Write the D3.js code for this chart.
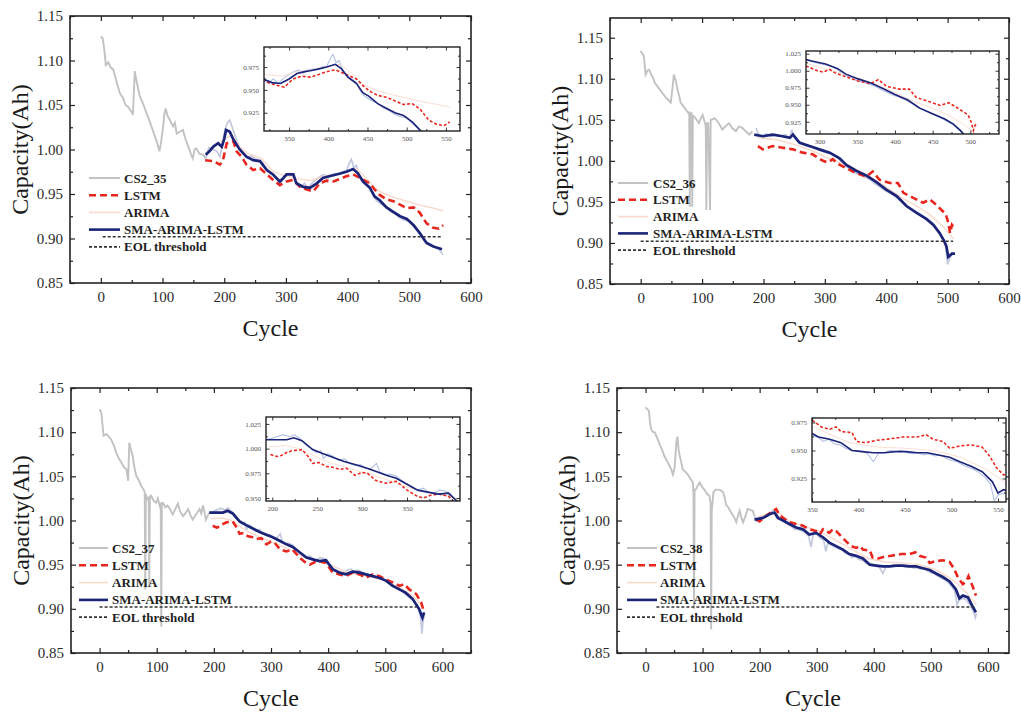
<!DOCTYPE html>
<html><head><meta charset="utf-8">
<script src="https://cdn.jsdelivr.net/npm/d3@7"></script>
<style>
body{margin:0;background:#fff;}
svg{display:block;}
text{font-family:"Liberation Serif","Times New Roman",serif;}
</style>
</head><body>
<svg id="chart" width="1021" height="713"></svg>
<script>
// ---------------- DATA ----------------
const seriesNames = ["CS2_35", "CS2_36", "CS2_37", "CS2_38"];
const legendLabels = ["LSTM", "ARIMA", "SMA-ARIMA-LSTM", "EOL threshold"];
const yTitle = "Capacity(Ah)";
const xTitle = "Cycle";
const mainXTicks = [0, 100, 200, 300, 400, 500, 600];
const mainYTicks = [0.85, 0.90, 0.95, 1.00, 1.05, 1.10, 1.15];
const eolValue = 0.902;

const insetX35 = [350, 400, 450, 500, 550];
const insetY35 = [0.925, 0.950, 0.975];
const insetX36 = [300, 350, 400, 450, 500];
const insetY36 = [0.925, 0.950, 0.975, 1.000, 1.025];
const insetX37 = [200, 250, 300, 350];
const insetY37 = [0.950, 0.975, 1.000, 1.025];
const insetX38 = [350, 400, 450, 500, 550];
const insetY38 = [0.925, 0.950, 0.975];

const raw35 = [[0,1.127],[3,1.125],[6,1.11],[8,1.095],[12,1.098],[16,1.092],[20,1.09],[24,1.08],[28,1.07],[31,1.063],[36,1.058],[40,1.05],[44,1.048],[47,1.045],[50,1.042],[52,1.039],[55,1.088],[57,1.08],[60,1.07],[63,1.06],[68,1.052],[74,1.041],[80,1.03],[85,1.02],[90,1.01],[95,0.998],[98,1.01],[101,1.026],[103,1.04],[105,1.046],[108,1.038],[112,1.033],[117,1.026],[120,1.03],[123,1.018],[128,1.02],[133,1.022],[137,1.012],[142,1.003],[146,0.995],[149,0.99],[152,1.0],[155,1.001],[160,0.995],[166,0.994],[170,0.99],[175,1.002],[182,1.0],[188,0.998],[193,0.992],[197,1.005],[201,1.022],[205,1.03],[209,1.033],[213,1.025],[220,1.011],[226,1.0],[232,0.995],[238,0.99],[244,0.993],[250,0.99],[256,0.988],[262,0.985],[268,0.978],[274,0.975],[280,0.97],[286,0.966],[292,0.962],[298,0.97],[305,0.973],[312,0.97],[318,0.96],[324,0.958],[330,0.962],[336,0.957],[342,0.962],[348,0.966],[356,0.97],[362,0.972],[368,0.968],[374,0.972],[380,0.973],[386,0.972],[392,0.975],[398,0.976],[403,0.985],[406,0.989],[410,0.98],[414,0.982],[418,0.972],[424,0.965],[430,0.962],[436,0.958],[440,0.95],[444,0.945],[448,0.942],[452,0.94],[458,0.937],[464,0.935],[470,0.93],[476,0.928],[482,0.925],[488,0.922],[494,0.92],[500,0.92],[506,0.914],[512,0.91],[518,0.905],[524,0.898],[530,0.895],[536,0.892],[542,0.89],[548,0.888],[552,0.884],[555,0.882]];
const lstm35 = [[169,0.988],[182,0.987],[193,0.983],[198,0.988],[204,1.007],[215,1.009],[220,0.998],[228,0.992],[236,0.983],[247,0.977],[258,0.979],[269,0.972],[279,0.966],[290,0.96],[301,0.964],[312,0.966],[323,0.958],[334,0.955],[344,0.953],[355,0.962],[366,0.965],[377,0.964],[388,0.967],[398,0.970],[409,0.972],[420,0.968],[436,0.962],[444,0.955],[452,0.949],[463,0.944],[474,0.942],[485,0.938],[496,0.934],[507,0.935],[517,0.929],[528,0.917],[539,0.912],[548,0.911],[555,0.915]];
const arima35 = [[170,0.996],[185,1.004],[200,1.012],[212,1.016],[225,1.003],[240,0.995],[260,0.99],[280,0.975],[300,0.97],[320,0.967],[340,0.965],[360,0.97],[380,0.972],[400,0.976],[415,0.978],[430,0.968],[445,0.956],[460,0.95],[480,0.945],[500,0.941],[520,0.937],[540,0.934],[555,0.931]];
const hyb35 = [[170,0.994],[176,0.998],[182,1.003],[190,1.007],[196,1.003],[200,1.012],[203,1.022],[209,1.02],[215,1.011],[225,1.0],[236,0.992],[247,0.988],[258,0.987],[269,0.977],[279,0.972],[290,0.964],[296,0.968],[301,0.972],[312,0.972],[317,0.962],[328,0.958],[339,0.957],[350,0.962],[360,0.968],[370,0.970],[377,0.971],[388,0.973],[398,0.975],[409,0.978],[417,0.973],[425,0.964],[436,0.957],[444,0.947],[452,0.943],[463,0.935],[474,0.930],[485,0.925],[496,0.922],[507,0.915],[517,0.906],[528,0.895],[539,0.891],[553,0.888]];

const raw36 = [[0,1.134],[3,1.13],[5,1.128],[8,1.105],[11,1.11],[14,1.111],[17,1.105],[19,1.103],[23,1.095],[27,1.091],[31,1.087],[35,1.083],[40,1.078],[44,1.075],[49,1.071],[52,1.09],[54,1.105],[57,1.098],[60,1.087],[63,1.078],[65,1.071],[70,1.066],[74,1.062],[78,1.058],[79,1.06],[80,0.944],[81,1.058],[83,1.058],[84,0.944],[85,1.055],[87,1.054],[91,1.05],[95,1.046],[98,1.052],[101,1.056],[104,1.048],[106,1.042],[107,0.94],[108,1.046],[110,1.046],[113,0.94],[114,1.05],[116,1.05],[120,1.052],[123,1.05],[128,1.045],[133,1.038],[138,1.042],[144,1.046],[149,1.04],[155,1.036],[160,1.042],[166,1.04],[171,1.036],[177,1.032],[182,1.036],[188,1.04],[192,1.032],[198,1.03],[205,1.033],[212,1.03],[220,1.032],[228,1.03],[236,1.032],[243,1.028],[246,1.038],[249,1.03],[255,1.024],[262,1.022],[270,1.018],[278,1.017],[286,1.015],[294,1.012],[302,1.01],[310,1.008],[318,1.006],[326,1.0],[334,0.993],[342,0.99],[350,0.985],[358,0.983],[366,0.98],[374,0.977],[382,0.972],[390,0.968],[398,0.964],[406,0.961],[414,0.957],[422,0.952],[430,0.946],[438,0.942],[446,0.938],[454,0.934],[462,0.93],[470,0.925],[478,0.92],[486,0.912],[492,0.905],[497,0.895],[500,0.874],[503,0.88],[506,0.885],[510,0.888]];
const lstm36 = [[191,1.018],[199,1.014],[215,1.018],[231,1.016],[248,1.014],[264,1.01],[280,1.008],[297,1.0],[305,0.998],[313,1.002],[322,0.996],[330,0.993],[351,0.985],[368,0.981],[378,0.987],[389,0.977],[406,0.973],[419,0.973],[428,0.961],[444,0.955],[460,0.949],[471,0.953],[482,0.946],[493,0.938],[497,0.935],[501,0.925],[504,0.912],[507,0.922],[509,0.92]];
const arima36 = [[190,1.028],[220,1.026],[250,1.02],[280,1.012],[300,1.005],[330,0.996],[350,0.99],[375,0.98],[400,0.968],[425,0.955],[450,0.945],[470,0.935],[490,0.922],[510,0.905]];
const hyb36 = [[185,1.032],[199,1.03],[215,1.032],[231,1.03],[243,1.028],[248,1.032],[259,1.022],[275,1.018],[291,1.014],[308,1.01],[324,1.003],[335,0.995],[351,0.988],[368,0.982],[384,0.974],[400,0.965],[417,0.957],[433,0.945],[449,0.937],[466,0.929],[477,0.922],[487,0.912],[494,0.903],[498,0.896],[501,0.883],[507,0.887],[512,0.887]];

const raw37 = [[0,1.126],[3,1.122],[7,1.096],[12,1.098],[16,1.095],[20,1.092],[25,1.085],[29,1.077],[34,1.07],[38,1.066],[43,1.06],[47,1.058],[50,1.045],[52,1.088],[55,1.08],[58,1.073],[61,1.06],[64,1.051],[69,1.045],[73,1.039],[77,1.035],[79,1.032],[80,0.922],[81,1.03],[83,1.024],[86,1.026],[87,0.926],[88,1.025],[90,1.028],[95,1.022],[99,1.02],[102,1.025],[105,1.017],[107,1.02],[108,0.88],[109,1.02],[111,1.02],[115,1.015],[119,1.017],[124,1.012],[128,1.007],[132,1.012],[137,1.019],[141,1.01],[146,1.005],[150,1.008],[155,1.013],[159,1.006],[163,1.001],[168,1.006],[172,1.01],[175,1.013],[178,1.008],[181,1.017],[184,1.008],[186,1.001],[189,1.005],[192,1.009],[198,1.01],[205,1.012],[212,1.014],[219,1.012],[225,1.014],[231,1.01],[237,1.004],[243,1.0],[249,0.996],[254,0.998],[257,0.99],[262,0.995],[268,0.992],[274,0.988],[280,0.99],[286,0.985],[292,0.983],[298,0.984],[304,0.98],[310,0.98],[316,0.985],[320,0.976],[326,0.974],[332,0.974],[338,0.972],[344,0.968],[350,0.964],[356,0.96],[362,0.958],[368,0.96],[374,0.956],[380,0.955],[386,0.958],[392,0.957],[398,0.955],[404,0.948],[410,0.944],[416,0.942],[422,0.94],[428,0.941],[434,0.944],[440,0.945],[446,0.942],[452,0.944],[458,0.942],[464,0.94],[470,0.938],[476,0.938],[482,0.937],[488,0.936],[494,0.934],[500,0.932],[506,0.93],[512,0.926],[518,0.924],[524,0.921],[530,0.92],[536,0.916],[542,0.913],[548,0.91],[554,0.905],[558,0.9],[562,0.89],[564,0.872],[566,0.885],[568,0.893]];
const lstm37 = [[198,0.994],[205,0.992],[210,0.993],[216,0.996],[222,0.998],[233,0.999],[240,0.992],[245,0.985],[252,0.986],[260,0.982],[268,0.981],[275,0.979],[283,0.98],[292,0.973],[300,0.976],[306,0.975],[315,0.968],[322,0.966],[327,0.965],[338,0.967],[350,0.958],[361,0.952],[368,0.95],[377,0.953],[385,0.954],[396,0.952],[408,0.941],[420,0.939],[431,0.937],[443,0.941],[455,0.939],[466,0.935],[478,0.939],[490,0.937],[501,0.933],[513,0.93],[525,0.926],[533,0.928],[542,0.922],[554,0.917],[563,0.907],[568,0.896]];
const arima37 = [[195,1.002],[215,1.003],[230,1.0],[260,0.987],[300,0.976],[330,0.968],[360,0.958],[400,0.951],[430,0.942],[460,0.938],[500,0.932],[530,0.922],[550,0.914],[568,0.9]];
const hyb37 = [[192,1.009],[204,1.009],[216,1.009],[224,1.011],[233,1.008],[245,0.999],[256,0.995],[268,0.991],[280,0.987],[292,0.984],[303,0.981],[315,0.977],[327,0.973],[338,0.970],[350,0.964],[362,0.958],[373,0.956],[385,0.954],[396,0.955],[408,0.945],[420,0.941],[431,0.939],[443,0.942],[455,0.941],[466,0.939],[478,0.937],[490,0.935],[501,0.932],[513,0.926],[525,0.922],[536,0.918],[548,0.911],[559,0.9],[565,0.89],[568,0.896]];

const raw38 = [[0,1.128],[3,1.126],[6,1.124],[8,1.11],[10,1.103],[13,1.1],[16,1.1],[20,1.094],[25,1.086],[29,1.08],[33,1.073],[37,1.068],[42,1.062],[45,1.058],[48,1.052],[51,1.06],[54,1.088],[56,1.095],[58,1.08],[60,1.073],[63,1.065],[65,1.058],[70,1.055],[74,1.052],[79,1.047],[83,1.043],[84,1.03],[85,0.9],[86,1.035],[88,1.035],[92,1.04],[95,1.043],[99,1.038],[103,1.035],[108,1.03],[112,1.028],[114,1.02],[115,0.877],[116,1.01],[119,1.032],[123,1.035],[127,1.035],[132,1.034],[136,1.032],[139,1.025],[141,1.018],[145,1.015],[150,1.009],[155,1.004],[159,0.998],[162,1.005],[165,1.011],[168,1.003],[171,0.998],[175,1.005],[179,1.013],[184,1.012],[188,1.011],[191,1.005],[194,1.0],[200,1.004],[206,1.003],[212,1.006],[218,1.008],[224,1.012],[228,1.01],[232,1.005],[238,1.002],[244,0.998],[250,0.996],[256,0.993],[262,0.99],[268,0.99],[274,0.988],[280,0.986],[286,0.982],[290,0.97],[294,0.985],[300,0.985],[306,0.98],[312,0.978],[316,0.965],[320,0.975],[326,0.972],[332,0.97],[338,0.968],[344,0.967],[350,0.963],[356,0.962],[362,0.958],[368,0.96],[374,0.956],[380,0.955],[386,0.952],[392,0.95],[398,0.95],[404,0.949],[410,0.947],[416,0.94],[422,0.948],[428,0.948],[434,0.95],[440,0.949],[446,0.95],[452,0.948],[458,0.947],[464,0.948],[470,0.946],[476,0.947],[482,0.945],[488,0.946],[494,0.943],[500,0.941],[506,0.94],[512,0.937],[518,0.935],[524,0.933],[530,0.93],[536,0.926],[542,0.92],[546,0.905],[550,0.91],[556,0.912],[562,0.91],[568,0.905],[574,0.898],[578,0.89],[580,0.895]];
const lstm38 = [[194,1.001],[200,0.999],[211,1.005],[222,1.01],[229,1.013],[235,1.006],[241,1.003],[252,0.998],[264,0.996],[276,0.994],[287,0.99],[299,0.988],[305,0.984],[311,0.99],[322,0.986],[328,0.99],[334,0.988],[346,0.98],[352,0.976],[360,0.971],[369,0.969],[376,0.971],[381,0.967],[393,0.966],[398,0.958],[408,0.957],[419,0.959],[430,0.96],[448,0.962],[463,0.962],[473,0.964],[480,0.96],[491,0.958],[498,0.952],[509,0.954],[521,0.955],[533,0.953],[541,0.945],[548,0.935],[556,0.928],[562,0.931],[566,0.937],[573,0.926],[579,0.915]];
const arima38 = [[195,1.003],[215,1.008],[230,1.01],[250,1.0],[270,0.995],[300,0.989],[330,0.979],[360,0.968],[390,0.957],[420,0.953],[450,0.952],[480,0.95],[510,0.944],[540,0.932],[560,0.92],[580,0.905]];
const hyb38 = [[191,1.001],[206,1.003],[217,1.007],[226,1.009],[232,1.003],[241,1.0],[252,0.996],[264,0.992],[276,0.99],[287,0.984],[299,0.986],[311,0.981],[322,0.975],[334,0.971],[346,0.967],[357,0.962],[369,0.960],[381,0.957],[393,0.950],[404,0.949],[416,0.948],[428,0.948],[439,0.949],[451,0.949],[463,0.948],[474,0.948],[486,0.946],[498,0.944],[509,0.940],[521,0.936],[533,0.931],[544,0.922],[550,0.912],[556,0.915],[565,0.913],[573,0.903],[579,0.896]];

// ---------------- LAYOUT ----------------
const panels = [
  {name: seriesNames[0], raw: raw35, lstm: lstm35, arima: arima35, hyb: hyb35, predStart: 170,
   frame: {x: 70, y: 16, w: 401, h: 267}, xDomain: [-50, 600], yDomain: [0.85, 1.15], eol: [3, 554],
   legend: {x0: 89, x1: 120, tx: 124, y0: 178, dy: 17.2},
   inset: {x: 264, y: 47, w: 196, h: 84, xDomain: [318, 568], yDomain: [0.905, 0.997], xTicks: insetX35, yTicks: insetY35}},
  {name: seriesNames[1], raw: raw36, lstm: lstm36, arima: arima36, hyb: hyb36, predStart: 185,
   frame: {x: 610, y: 18, w: 399, h: 266}, xDomain: [-50, 600], yDomain: [0.85, 1.174], eol: [0, 509],
   legend: {x0: 618, x1: 648, tx: 653, y0: 183, dy: 16.8},
   inset: {x: 806, y: 51, w: 193, h: 83, xDomain: [282, 538], yDomain: [0.907, 1.029], xTicks: insetX36, yTicks: insetY36}},
  {name: seriesNames[2], raw: raw37, lstm: lstm37, arima: arima37, hyb: hyb37, predStart: 192,
   frame: {x: 71, y: 388, w: 400, h: 265}, xDomain: [-50, 650], yDomain: [0.85, 1.15], eol: [0, 555],
   legend: {x0: 79, x1: 108, tx: 112, y0: 548, dy: 17.3},
   inset: {x: 266, y: 417, w: 194, h: 84, xDomain: [193, 409], yDomain: [0.947, 1.032], xTicks: insetX37, yTicks: insetY37}},
  {name: seriesNames[3], raw: raw38, lstm: lstm38, arima: arima38, hyb: hyb38, predStart: 191,
   frame: {x: 617, y: 388, w: 392, h: 265}, xDomain: [-50, 637], yDomain: [0.85, 1.15], eol: [19, 576],
   legend: {x0: 627, x1: 657, tx: 660, y0: 548, dy: 17.3},
   inset: {x: 812, y: 418, w: 194, h: 84, xDomain: [350, 558.6], yDomain: [0.904, 0.979], xTicks: insetX38, yTicks: insetY38}}
];

const C = {
  raw: "#c2c2c2", rawTest: "#aebde3", lstm: "#e8261e", arima: "#f8d9cc", hyb: "#1b2478", eol: "#333", frame: "#222", text: "#222"
};

const svg = d3.select("#chart");

function axesBox(g, x, y, w, h, o) {
  const style = sel => {
    sel.select(".domain").remove();
    sel.selectAll(".tick line").attr("stroke", C.frame).attr("stroke-width", o.tickW);
    sel.selectAll(".tick text").attr("fill", o.textFill).style("font-size", o.font + "px")
      .style("font-family", '"Liberation Serif","Times New Roman",serif');
  };
  g.append("g").attr("transform", `translate(0,${h})`)
    .call(d3.axisBottom(x).tickValues(o.xMajor).tickSize(-o.major).tickPadding(o.xPad).tickFormat(o.xFmt)).call(style);
  g.append("g").attr("transform", `translate(0,${h})`)
    .call(d3.axisBottom(x).tickValues(o.xMinor).tickSize(-o.minor).tickFormat("")).call(style);
  g.append("g").call(d3.axisTop(x).tickValues(o.xMajor).tickSize(-o.major).tickFormat("")).call(style);
  g.append("g").call(d3.axisTop(x).tickValues(o.xMinor).tickSize(-o.minor).tickFormat("")).call(style);
  g.append("g").call(d3.axisLeft(y).tickValues(o.yMajor).tickSize(-o.major).tickPadding(o.yPad).tickFormat(o.yFmt)).call(style);
  g.append("g").call(d3.axisLeft(y).tickValues(o.yMinor).tickSize(-o.minor).tickFormat("")).call(style);
  g.append("g").attr("transform", `translate(${w},0)`)
    .call(d3.axisRight(y).tickValues(o.yMajor).tickSize(-o.major).tickFormat("")).call(style);
  g.append("g").attr("transform", `translate(${w},0)`)
    .call(d3.axisRight(y).tickValues(o.yMinor).tickSize(-o.minor).tickFormat("")).call(style);
  g.append("rect").attr("width", w).attr("height", h).attr("fill", "none")
    .attr("stroke", C.frame).attr("stroke-width", o.frameW);
}

function drawSeries(g, p, x, y, scale) {
  const line = d3.line().x(d => x(d[0])).y(d => y(d[1]));
  g.append("path").datum(p.raw.filter(d => d[0] <= p.predStart + 2)).attr("d", line)
    .attr("fill", "none").attr("stroke", C.raw).attr("stroke-width", 1.9 * scale);
  g.append("path").datum(p.raw.filter(d => d[0] >= p.predStart - 2)).attr("d", line)
    .attr("fill", "none").attr("stroke", scale < 1 ? C.rawTest : "#c3c9de").attr("stroke-width", 1.7 * scale);
  g.append("path").datum(p.arima).attr("d", line)
    .attr("fill", "none").attr("stroke", C.arima).attr("stroke-width", 1.4 * scale);
  g.append("path").datum(p.lstm).attr("d", line)
    .attr("fill", "none").attr("stroke", C.lstm).attr("stroke-width", 2.6 * scale)
    .attr("stroke-dasharray", scale < 1 ? "3,2" : "7,4");
  g.append("path").datum(p.hyb).attr("d", line)
    .attr("fill", "none").attr("stroke", C.hyb).attr("stroke-width", 2.7 * scale);
}

panels.forEach((p, i) => {
  const f = p.frame;
  const g = svg.append("g").attr("transform", `translate(${f.x},${f.y})`);
  const x = d3.scaleLinear().domain(p.xDomain).range([0, f.w]);
  const y = d3.scaleLinear().domain(p.yDomain).range([f.h, 0]);

  svg.append("clipPath").attr("id", "clip" + i).append("rect").attr("width", f.w).attr("height", f.h);
  const plot = g.append("g").attr("clip-path", `url(#clip${i})`);
  drawSeries(plot, p, x, y, 1);
  plot.append("line").attr("x1", x(p.eol[0])).attr("x2", x(p.eol[1]))
    .attr("y1", y(eolValue)).attr("y2", y(eolValue))
    .attr("stroke", C.eol).attr("stroke-width", 1.6).attr("stroke-dasharray", "3,2");

  axesBox(g, x, y, f.w, f.h, {
    xMajor: mainXTicks.filter(v => v >= p.xDomain[0] && v <= p.xDomain[1]),
    xMinor: d3.range(-50, p.xDomain[1] + 1, 100),
    yMajor: mainYTicks,
    yMinor: d3.range(0.875, 1.15, 0.05),
    major: 5, minor: 3, tickW: 1.2, frameW: 1.6, font: 15, xPad: 8, yPad: 7, textFill: "#2b2b2b",
    xFmt: d3.format("d"), yFmt: d3.format(".2f")
  });

  g.append("text").attr("transform", `translate(-50,${f.h / 2}) rotate(-90)`)
    .attr("text-anchor", "middle").attr("dominant-baseline", "central")
    .attr("fill", "#1a1a1a").style("font-size", "24px").text(yTitle);
  g.append("text").attr("x", f.w / 2).attr("y", f.h + 45)
    .attr("text-anchor", "middle").attr("dominant-baseline", "central")
    .attr("fill", "#1a1a1a").style("font-size", "24px").text(xTitle);

  const L = p.legend;
  const items = [
    {label: p.name, stroke: C.raw, w: 2, dash: null},
    {label: legendLabels[0], stroke: C.lstm, w: 2.6, dash: "7,4"},
    {label: legendLabels[1], stroke: C.arima, w: 1.6, dash: null},
    {label: legendLabels[2], stroke: C.hyb, w: 2.6, dash: null},
    {label: legendLabels[3], stroke: C.eol, w: 1.8, dash: "3,2"}
  ];
  items.forEach((it, k) => {
    const yy = L.y0 + k * L.dy;
    svg.append("line").attr("x1", L.x0).attr("x2", L.x1).attr("y1", yy).attr("y2", yy)
      .attr("stroke", it.stroke).attr("stroke-width", it.w).attr("stroke-dasharray", it.dash);
    svg.append("text").attr("x", L.tx).attr("y", yy).attr("dominant-baseline", "central")
      .attr("fill", "#1f1f1f").style("font-size", "13px").style("font-weight", "bold").text(it.label);
  });

  const I = p.inset;
  const ig = svg.append("g").attr("transform", `translate(${I.x},${I.y})`);
  ig.append("rect").attr("width", I.w).attr("height", I.h).attr("fill", "#fff");
  const ix = d3.scaleLinear().domain(I.xDomain).range([0, I.w]);
  const iy = d3.scaleLinear().domain(I.yDomain).range([I.h, 0]);
  svg.append("clipPath").attr("id", "iclip" + i).append("rect").attr("width", I.w).attr("height", I.h);
  const iplot = ig.append("g").attr("clip-path", `url(#iclip${i})`);
  drawSeries(iplot, p, ix, iy, 0.6);
  const xMinorI = d3.range(Math.ceil(I.xDomain[0] / 25) * 25, I.xDomain[1], 25).filter(v => !I.xTicks.includes(v));
  const yMinorI = I.yTicks.map(v => v + 0.0125).filter(v => v < I.yDomain[1])
    .concat([I.yTicks[0] - 0.0125].filter(v => v > I.yDomain[0]));
  axesBox(ig, ix, iy, I.w, I.h, {
    xMajor: I.xTicks, xMinor: xMinorI, yMajor: I.yTicks, yMinor: yMinorI,
    major: 3.5, minor: 2, tickW: 0.9, frameW: 1.4, font: 7, xPad: 5, yPad: 5, textFill: "#555",
    xFmt: d3.format("d"), yFmt: d3.format(".3f")
  });
});
</script>
</body></html>
